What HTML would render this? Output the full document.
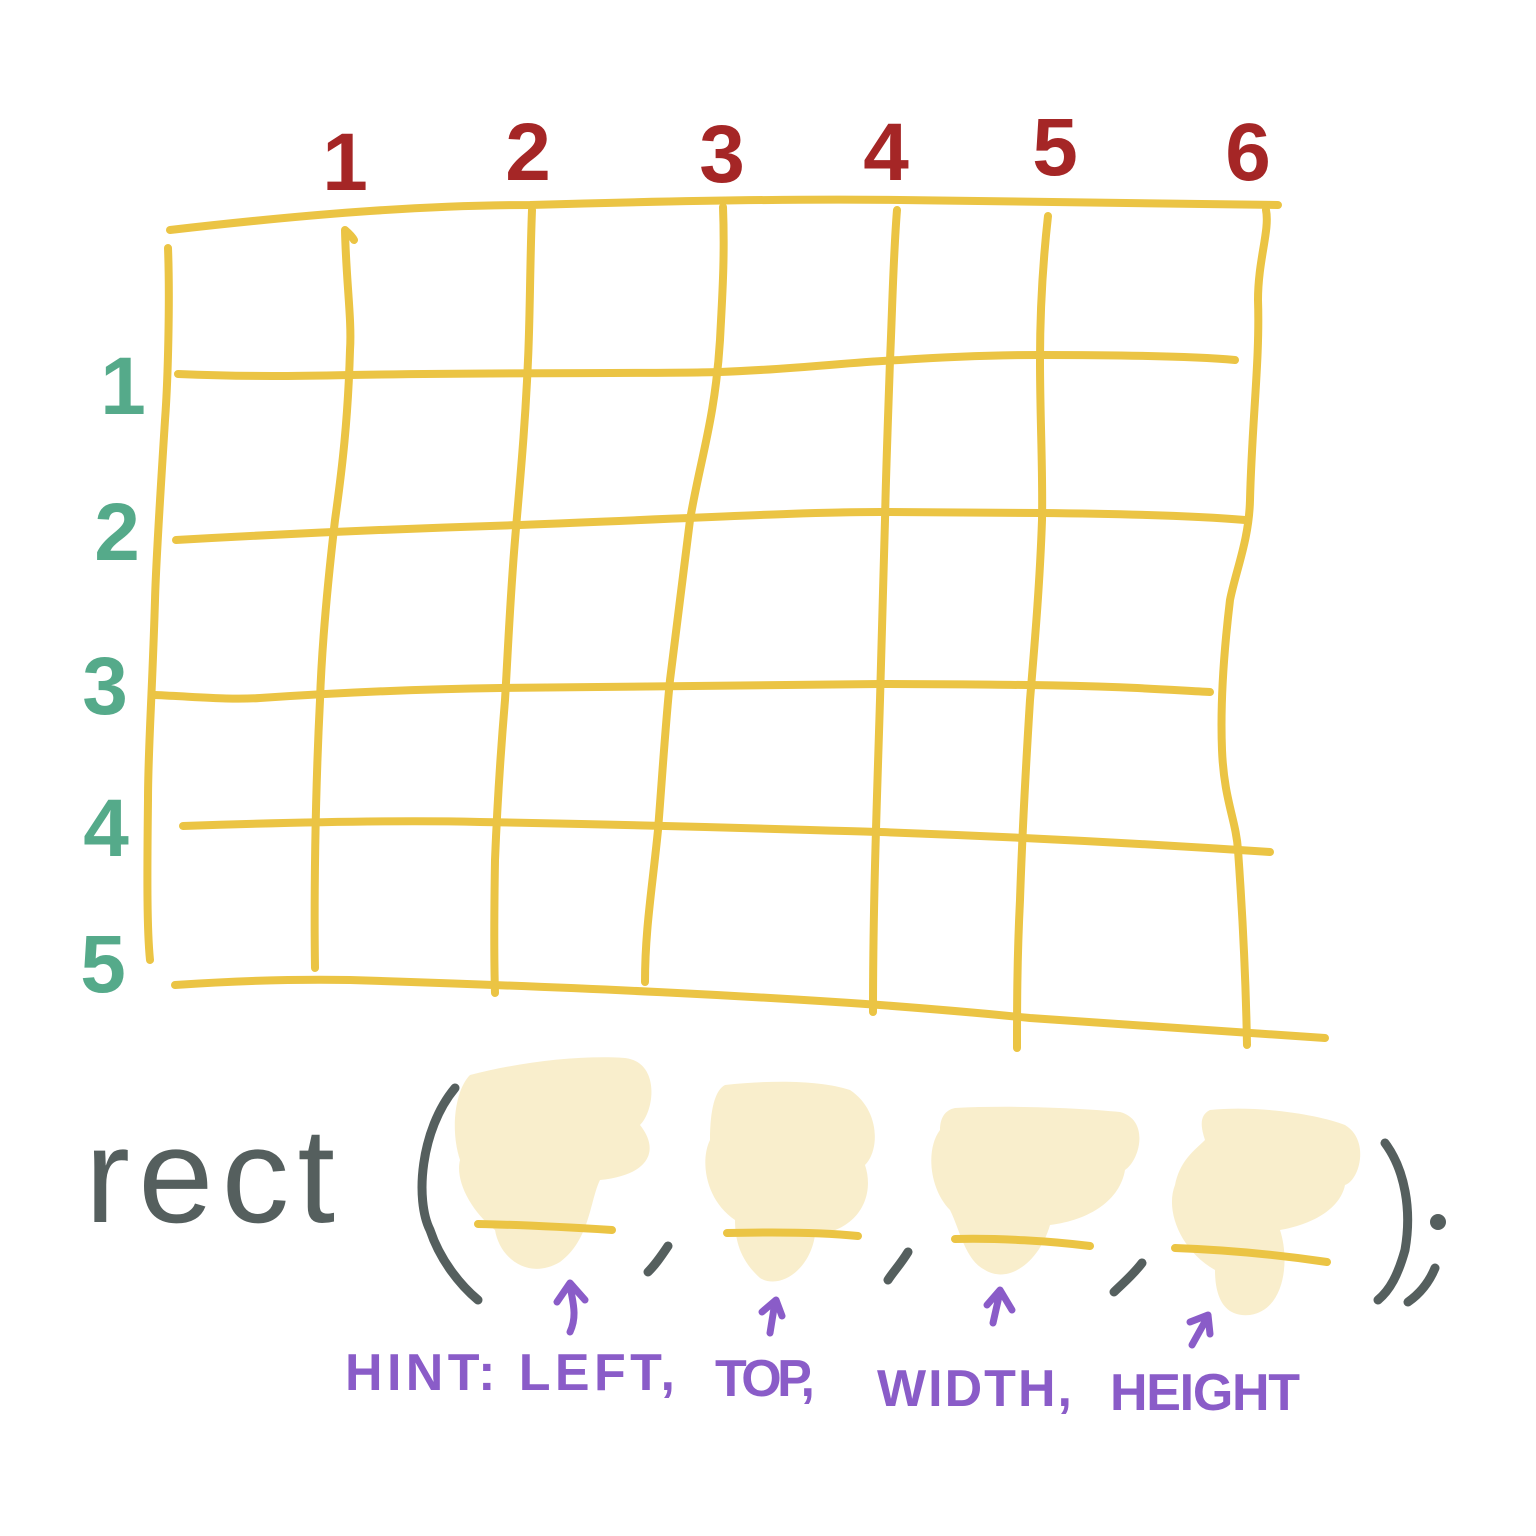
<!DOCTYPE html>
<html><head><meta charset="utf-8"><style>
html,body{margin:0;padding:0;background:#fff;}
svg{display:block;}
text{font-family:"Liberation Sans",sans-serif;}
</style></head><body>
<svg width="1536" height="1536" viewBox="0 0 1536 1536" xmlns="http://www.w3.org/2000/svg">
<rect width="1536" height="1536" fill="#fff"/>
<g fill="none" stroke="#EBC444" stroke-width="8" stroke-linecap="round" stroke-linejoin="round">
<path d="M170 230 C300 215 420 205 530 205 C700 200 820 199 900 200 C1050 201 1180 204 1278 205"/>
<path d="M178 374 C250 377 300 376 350 375 C500 372 650 374 720 372 C800 369 850 362 900 360 C960 356 1000 355 1040 355 C1120 355 1190 356 1235 360"/>
<path d="M176 540 C300 533 420 528 520 525 C700 518 800 512 880 512 C960 512 1000 513 1040 513 C1140 514 1200 516 1245 520"/>
<path d="M155 695 C200 697 230 700 260 698 C350 692 420 689 500 688 C700 686 800 684 880 684 C960 684 1000 685 1030 685 C1120 686 1170 690 1210 692"/>
<path d="M183 826 C300 822 400 820 480 822 C700 826 800 830 880 832 C1050 838 1180 846 1270 852"/>
<path d="M175 985 C250 980 300 979 350 980 C600 988 750 996 880 1005 C960 1011 1000 1015 1030 1018 C1150 1026 1250 1032 1325 1038"/>
<path d="M168 248 C170 300 168 380 165 420 C160 500 156 560 155 600 C152 700 148 750 148 800 C147 880 147 930 150 960"/>
<path d="M345 230 C352 236 354 240 354 240 M345 230 C346 280 352 320 350 350 C348 420 342 470 335 520 C328 580 322 640 320 700 C315 800 314 900 315 968"/>
<path d="M532 210 C530 260 530 320 528 360 C525 430 520 480 515 540 C510 600 508 650 505 700 C500 760 497 810 495 860 C494 920 494 960 495 993"/>
<path d="M723 207 C725 260 722 300 720 340 C715 420 700 460 690 520 C682 580 676 630 670 680 C665 730 662 780 658 830 C652 890 645 930 645 982"/>
<path d="M897 210 C893 260 892 320 890 360 C888 420 886 470 885 520 C883 580 882 640 880 700 C877 800 873 900 873 1012"/>
<path d="M1048 216 C1042 270 1040 320 1040 360 C1040 420 1043 470 1042 520 C1040 580 1035 640 1030 700 C1025 780 1022 840 1020 900 C1017 960 1017 1010 1017 1048"/>
<path d="M1266 210 C1270 230 1258 260 1258 300 C1260 360 1252 420 1250 500 C1249 540 1236 570 1230 600 C1224 650 1220 700 1222 750 C1224 800 1236 820 1238 850 C1243 920 1246 990 1247 1045"/>
</g>
<g fill="#A52626" font-weight="bold" font-size="82" text-anchor="middle">
<text x="345" y="190">1</text>
<text x="528" y="180">2</text>
<text x="722" y="182">3</text>
<text x="886" y="180">4</text>
<text x="1055" y="175">5</text>
<text x="1248" y="180">6</text>
</g>
<g fill="#55AA8A" font-weight="bold" font-size="82" text-anchor="middle">
<text x="123" y="414">1</text>
<text x="117" y="560">2</text>
<text x="105" y="714">3</text>
<text x="106" y="856">4</text>
<text x="103" y="992">5</text>
</g>
<g fill="#F9EECC">
<path d="M470 1075 C520 1062 580 1055 625 1058 C660 1062 655 1110 640 1125 C660 1150 650 1175 600 1180 C590 1200 590 1240 560 1262 C530 1280 500 1260 495 1230 C470 1210 455 1180 460 1160 C450 1130 455 1090 470 1075Z"/>
<path d="M725 1085 C770 1080 820 1080 850 1090 C880 1110 880 1150 865 1165 C875 1195 860 1230 815 1235 C810 1270 780 1290 760 1278 C740 1260 735 1240 735 1220 C705 1200 700 1160 710 1140 C710 1110 715 1090 725 1085Z"/>
<path d="M955 1108 C1010 1105 1080 1108 1120 1112 C1150 1120 1140 1160 1125 1170 C1120 1200 1090 1220 1050 1225 C1040 1260 1010 1285 985 1270 C965 1260 960 1230 950 1210 C930 1190 925 1150 940 1130 C940 1118 945 1110 955 1108Z"/>
<path d="M1210 1110 C1260 1105 1320 1115 1345 1125 C1370 1140 1360 1180 1345 1185 C1340 1210 1310 1225 1280 1230 C1290 1260 1285 1310 1250 1315 C1220 1318 1215 1290 1215 1270 C1180 1250 1165 1210 1175 1185 C1180 1160 1195 1150 1205 1140 C1200 1125 1200 1115 1210 1110Z"/>
</g>
<g fill="none" stroke="#EBC444" stroke-width="8" stroke-linecap="round">
<path d="M478 1224 C530 1225 580 1228 612 1230"/>
<path d="M727 1233 C770 1232 820 1232 858 1236"/>
<path d="M955 1239 C1000 1238 1050 1241 1090 1246"/>
<path d="M1175 1248 C1230 1250 1280 1255 1327 1262"/>
</g>
<text x="85" y="1222" fill="#555F5E" font-size="135" textLength="250">rect</text>
<g fill="none" stroke="#555F5E" stroke-width="9" stroke-linecap="round">
<path d="M455 1088 C420 1130 415 1200 430 1230 C440 1260 460 1285 478 1300"/>
<path d="M668 1246 C660 1258 655 1265 648 1272"/>
<path d="M908 1252 C900 1265 893 1272 888 1280"/>
<path d="M1142 1263 C1132 1276 1122 1284 1114 1292"/>
<path d="M1385 1143 C1405 1170 1412 1210 1405 1250 C1398 1275 1390 1290 1378 1300"/>
<path d="M1435 1268 C1428 1285 1418 1295 1408 1302"/>
</g>
<circle cx="1438" cy="1222" r="8" fill="#555F5E"/>
<g fill="none" stroke="#8A5CC8" stroke-width="7" stroke-linecap="round" stroke-linejoin="round">
<path d="M570 1332 C578 1315 572 1300 570 1285 M557 1302 L570 1283 L585 1300"/>
<path d="M770 1333 L775 1302 M762 1312 L776 1300 L782 1316"/>
<path d="M993 1323 L1000 1292 M987 1305 L1000 1290 L1012 1310"/>
<path d="M1192 1345 L1207 1318 M1190 1322 L1208 1315 L1210 1334"/>
</g>
<g fill="#8A5CC8" font-weight="bold" font-size="52">
<text x="345" y="1390" textLength="330">HINT: LEFT,</text>
<text x="715" y="1396" textLength="100">TOP,</text>
<text x="877" y="1406" textLength="195">WIDTH,</text>
<text x="1110" y="1410" textLength="190">HEIGHT</text>
</g>
</svg>
</body></html>
